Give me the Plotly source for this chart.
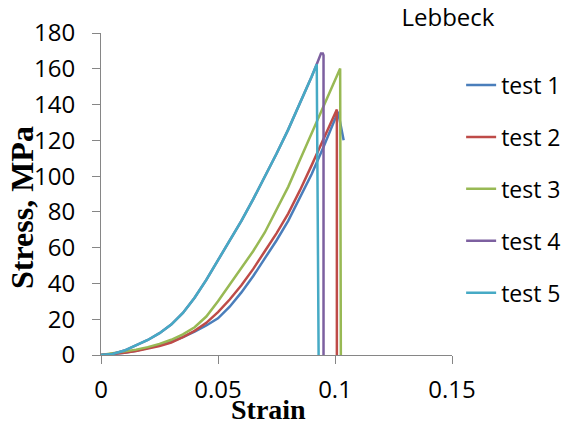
import plotly.graph_objects as go

# ---- data ----
test1_strain = [0, 0.005, 0.01, 0.015, 0.02, 0.025, 0.03, 0.035, 0.04, 0.045, 0.05, 0.055, 0.06, 0.065, 0.07, 0.075, 0.08, 0.085, 0.09, 0.095, 0.1013, 0.1037]
test1_stress = [0, 0.5, 1.3, 2.4, 3.8, 5.5, 7.5, 10.0, 13.0, 16.5, 20.5, 27.0, 35.0, 44.0, 54.0, 64.0, 75.0, 88.0, 101.0, 116.0, 136.0, 120.0]

test2_strain = [0, 0.005, 0.01, 0.015, 0.02, 0.025, 0.03, 0.035, 0.04, 0.045, 0.05, 0.055, 0.06, 0.065, 0.07, 0.075, 0.08, 0.085, 0.09, 0.095, 0.1008, 0.1008]
test2_stress = [0, 0.5, 1.2, 2.2, 3.5, 5.0, 7.0, 10.0, 13.5, 18.0, 24.0, 31.0, 39.0, 48.0, 58.0, 68.0, 79.0, 92.0, 106.0, 120.5, 137.2, 0]

test3_strain = [0, 0.005, 0.01, 0.015, 0.02, 0.025, 0.03, 0.035, 0.04, 0.045, 0.05, 0.055, 0.06, 0.065, 0.07, 0.075, 0.08, 0.085, 0.09, 0.095, 0.1022, 0.1025]
test3_stress = [0, 0.9, 1.8, 3.0, 4.4, 6.2, 8.5, 11.5, 15.5, 21.5, 30.0, 39.5, 48.5, 58.0, 68.5, 81.0, 94.0, 109.0, 124.0, 139.0, 160.1, 0]

test4_strain = [0, 0.005, 0.01, 0.015, 0.02, 0.025, 0.03, 0.035, 0.04, 0.045, 0.05, 0.055, 0.06, 0.065, 0.07, 0.075, 0.08, 0.085, 0.09, 0.0922, 0.0932, 0.094, 0.0948, 0.0951, 0.0951]
test4_stress = [0, 0.6, 2.5, 5.3, 8.4, 12.2, 17.0, 23.5, 32.0, 42.0, 53.0, 63.5, 75.0, 87.0, 99.5, 112.5, 126.0, 140.5, 155.5, 162.5, 166.5, 168.5, 168.5, 167.5, 0]

test5_strain = [0, 0.005, 0.01, 0.015, 0.02, 0.025, 0.03, 0.035, 0.04, 0.045, 0.05, 0.055, 0.06, 0.065, 0.07, 0.075, 0.08, 0.085, 0.09, 0.0922, 0.093]
test5_stress = [0, 0.6, 2.5, 5.3, 8.4, 12.2, 17.0, 23.5, 32.0, 42.0, 53.0, 63.5, 75.0, 87.0, 99.5, 112.5, 126.0, 140.5, 155.5, 162.5, 0]

series_names = ["test 1", "test 2", "test 3", "test 4", "test 5"]
series_colors = ["#4A7EBB", "#BE4B48", "#98B954", "#7D60A0", "#46AAC5"]

x_ticks = [0, 0.05, 0.1, 0.15]
x_tick_labels = ["0", "0.05", "0.1", "0.15"]
y_ticks = [0, 20, 40, 60, 80, 100, 120, 140, 160, 180]

chart_title = "Lebbeck"
x_title = "Strain"
y_title = "Stress, MPa"

strains = [test1_strain, test2_strain, test3_strain, test4_strain, test5_strain]
stresses = [test1_stress, test2_stress, test3_stress, test4_stress, test5_stress]

fig = go.Figure()
for name, color, xs, ys in zip(series_names, series_colors, strains, stresses):
    fig.add_trace(go.Scatter(
        x=xs, y=ys, mode="lines", name=name, legendgroup=name,
        line=dict(color=color, width=2.5),
    ))

axis_gray = "#868686"
sans = "Open Sans, sans-serif"
serif = "Liberation Serif, Times New Roman, serif"
tick_font = dict(family=sans, size=24, color="#000000")

fig.update_layout(
    width=574, height=425,
    margin=dict(l=101, r=122, t=33, b=70, autoexpand=False),
    paper_bgcolor="white", plot_bgcolor="white",
    showlegend=True,
    legend=dict(
        x=1.026, xanchor="left", y=0.905, yanchor="top",
        font=dict(family=sans, size=23, color="#000000"),
        tracegroupgap=19, itemwidth=30,
        bgcolor="rgba(0,0,0,0)",
    ),
    title=dict(
        text=chart_title, x=0.9885, xref="paper", xanchor="center", y=0.958, yanchor="middle",
        font=dict(family=sans, size=24, color="#000000"),
    ),
    xaxis=dict(
        range=[0, 0.15], tickvals=x_ticks, ticktext=x_tick_labels,
        showgrid=False, zeroline=False,
        showline=True, linecolor=axis_gray, linewidth=1,
        ticks="outside", ticklen=8, tickcolor=axis_gray, tickwidth=1,
        tickfont=tick_font, ticklabelstandoff=5,
        fixedrange=True,
    ),
    yaxis=dict(
        range=[0, 180], tickvals=y_ticks,
        showgrid=False, zeroline=False,
        showline=True, linecolor=axis_gray, linewidth=1,
        ticks="outside", ticklen=8, tickcolor=axis_gray, tickwidth=1,
        tickfont=tick_font, ticklabelstandoff=12,
        fixedrange=True,
    ),
    annotations=[
        dict(text="<b>" + x_title + "</b>", xref="paper", yref="paper",
             x=0.4758, y=-0.1708, xanchor="center", yanchor="middle", showarrow=False,
             font=dict(family=serif, size=28, color="#000000")),
        dict(text="<b>" + y_title + "</b>", xref="paper", yref="paper", textangle=-90,
             x=-0.225, y=0.4565, xanchor="center", yanchor="middle", showarrow=False,
             font=dict(family=serif, size=32, color="#000000")),
    ],
)

# remove the browser's default body margin so the figure fills the window exactly
fig.write_html("out.html", config={"displayModeBar": False},
               post_script="document.body.style.margin='0px';")
